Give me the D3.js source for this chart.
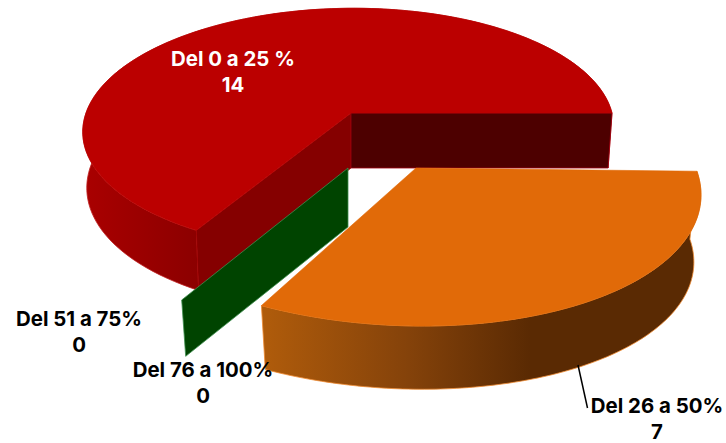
<!DOCTYPE html>
<html><head><meta charset="utf-8">
<script src="https://cdnjs.cloudflare.com/ajax/libs/d3/7.8.5/d3.min.js"></script>
<style>html,body{margin:0;padding:0;background:#fff}svg{display:block}text{font-family:Inter,sans-serif;font-weight:700;font-size:20.4px;text-anchor:middle}</style>
</head><body><svg id="c" width="726" height="443"></svg>
<script>
const categories = ["Del 0 a 25 %","Del 26 a 50%","Del 51 a 75%","Del 76 a 100%"];
const values = [14,7,0,0];

// Draw order: orange first clockwise from 3 o'clock, then the zero slices, then red.
const order = [1,2,3,0];
const angles = d3.pie().sort(null).value(d=>d.v).startAngle(Math.PI/2).endAngle(Math.PI*2.5)
  (order.map(i=>({i,v:values[i]})));
const sliceOf = {}; angles.forEach(a=>sliceOf[a.data.i]=a);

// Perspective parameters of each exploded slice
const view = {
  red:   {cx:351,cy:113,R:263,B:119,k:.136,m:-.0076,c:-5,dy:55,e:8,sx:.985,sy:.985},
  green: {cx:348,cy:168,R:275,B:126,k:.2,m:0,c:0,dy:59,e:0,sx:.976,sy:.98},
  // the orange rim is described directly as a tilted ellipse
  orange:{cx:416,cy:168,ell:{x0:-24,y0:12.4,A:309,B:145.6,phi:5.7,t0:-9.3,ts:124.3/120},dy:68,sx:.975,sy:.97}
};
function proj(v,a,r,bottom){
  let px,py,y=-Math.cos(a)*r;
  if(v.ell){
    const E=v.ell, t=(E.t0+E.ts*(a*180/Math.PI-90))*Math.PI/180;
    px=r*(E.x0+E.A*Math.cos(t)); py=r*(E.y0+E.B*Math.sin(t+E.phi*Math.PI/180));
    if(bottom){px*=v.sx;py=py*v.sy+v.dy;}
  } else {
    const x=Math.sin(a)*r, w=1-v.k*y-v.m*x;
    px=(v.R*x+v.c*y)/w; py=v.B*y/w;
    if(bottom){px*=v.sx;py=py*v.sy+v.dy+v.e*y;}
  }
  return [v.cx+px,v.cy+py];
}
const arcPts=(v,a0,a1,bottom)=>d3.range(0,121).map(i=>proj(v,a0+(a1-a0)*i/120,1,bottom));
const line=d3.line();
const svg=d3.select("#c");
const defs=svg.append("defs");
function grad(id,x1,x2,stops){
  const g=defs.append("linearGradient").attr("id",id).attr("gradientUnits","userSpaceOnUse")
    .attr("x1",x1).attr("x2",x2).attr("y1",0).attr("y2",0);
  stops.forEach(s=>g.append("stop").attr("offset",s[0]).attr("stop-color",s[1]));
}
grad("gr",85,200,[[0,"#a90000"],[1,"#8b0000"]]);
grad("go",262,530,[[0,"#b05c0b"],[.55,"#84420a"],[1,"#5a2a03"]]);

function drawSide(v,s,fill,stroke){
  const pts=arcPts(v,s.startAngle,s.endAngle,false).concat(arcPts(v,s.endAngle,s.startAngle,true));
  svg.append("path").attr("d",line(pts)+"Z").attr("fill",fill).attr("stroke",stroke).attr("stroke-width",.8);
}
function drawWall(v,a,fill,stroke){
  const pts=[proj(v,a,0,false),proj(v,a,1,false),proj(v,a,1,true),proj(v,a,0,true)];
  svg.append("path").attr("d",line(pts)+"Z").attr("fill",fill).attr("stroke",stroke).attr("stroke-width",.8);
}
function drawTop(v,s,fill,stroke){
  const pts=[proj(v,0,0,false)].concat(arcPts(v,s.startAngle,s.endAngle,false));
  svg.append("path").attr("d",line(pts)+"Z").attr("fill",fill).attr("stroke",stroke).attr("stroke-width",.6);
}
const r=sliceOf[0], o=sliceOf[1];
drawSide(view.red,r,"url(#gr)","#c02020");
drawWall(view.red,r.startAngle,"#850000","#a00000");
drawWall(view.red,r.endAngle,"#4d0000","#a00010");
drawTop(view.red,r,"#bb0000","#bb0000");
drawWall(view.green,sliceOf[2].startAngle,"#004400","#3f8f4f");
drawSide(view.orange,o,"url(#go)","#f08a30");
drawTop(view.orange,o,"#e16a08","#e16a08");

// Leader line
svg.append("line").attr("x1",578).attr("y1",365).attr("x2",587.5).attr("y2",408)
  .attr("stroke","#000").attr("stroke-width",1.5);

const labelAt=[
  {i:0,x:233,y:66,fill:"#fff"},
  {i:1,x:657,y:413,fill:"#000"},
  {i:2,x:79,y:326,fill:"#000"},
  {i:3,x:203,y:377,fill:"#000"}
];
labelAt.forEach(l=>{
  const t=svg.append("text").attr("fill",l.fill);
  t.append("tspan").attr("x",l.x).attr("y",l.y).text(categories[l.i]);
  t.append("tspan").attr("x",l.x).attr("y",l.y+26).text(values[l.i]);
});
</script></body></html>
